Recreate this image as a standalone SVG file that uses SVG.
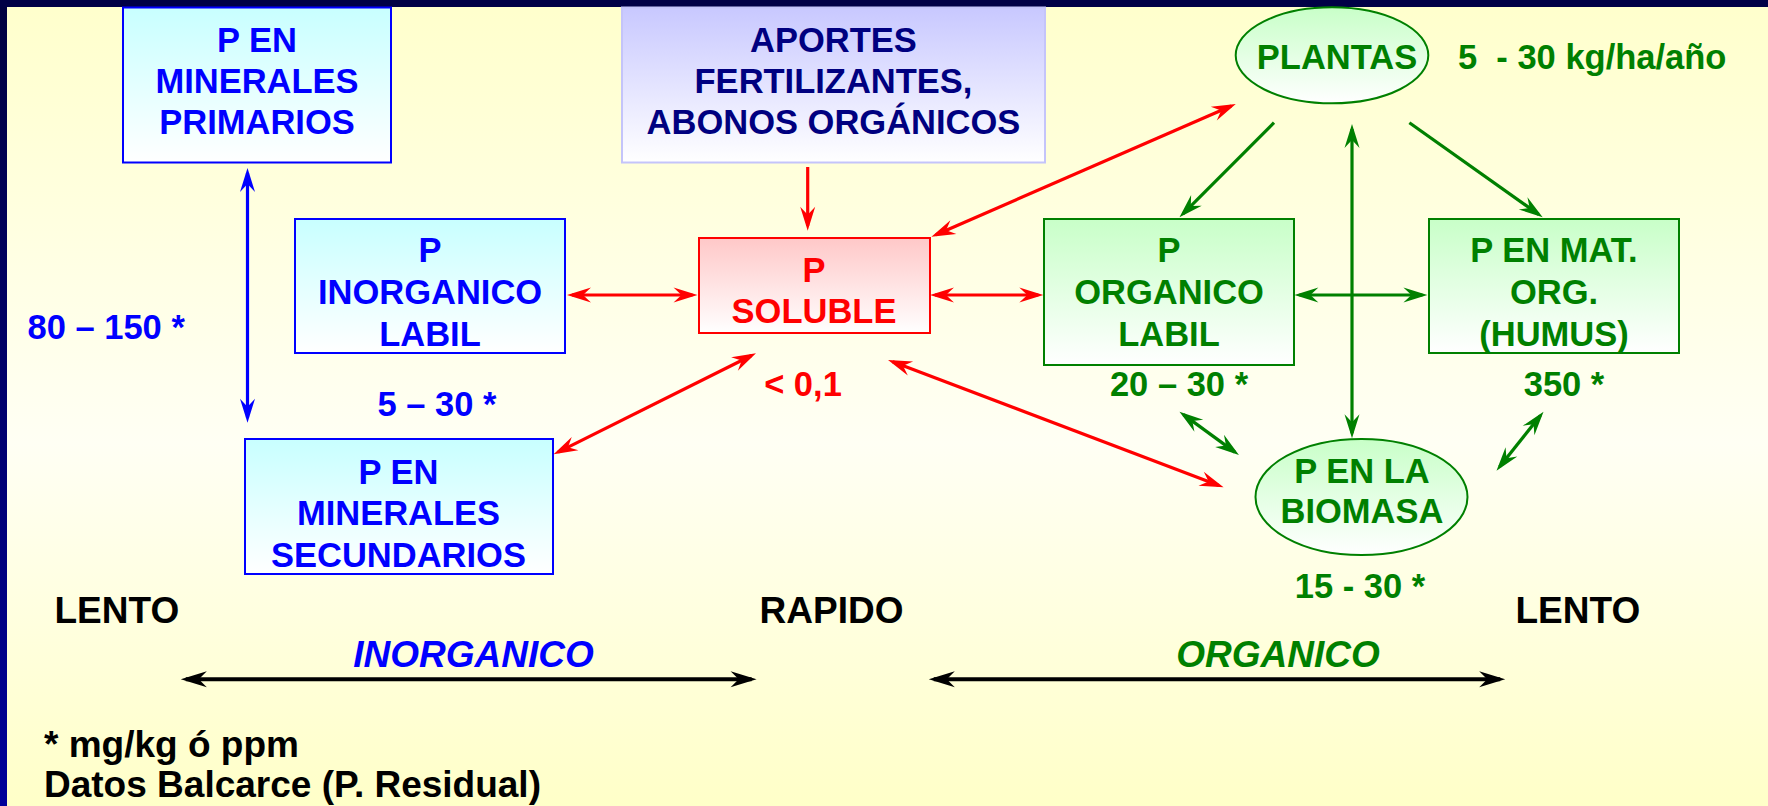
<svg xmlns="http://www.w3.org/2000/svg" width="1768" height="806" viewBox="0 0 1768 806">
<defs>
  <linearGradient id="bg" x1="0" y1="0" x2="0" y2="1">
    <stop offset="0" stop-color="#FFFFCC"/>
    <stop offset="0.55" stop-color="#FFFFF4"/>
    <stop offset="1" stop-color="#FFFFC8"/>
  </linearGradient>
  <linearGradient id="band" x1="0" y1="0" x2="0" y2="1">
    <stop offset="0" stop-color="#000040"/>
    <stop offset="1" stop-color="#00009A"/>
  </linearGradient>
  <linearGradient id="gCyan" x1="0" y1="0" x2="0" y2="1">
    <stop offset="0" stop-color="#C8FFFF"/>
    <stop offset="1" stop-color="#FFFFFF"/>
  </linearGradient>
  <linearGradient id="gLav" x1="0" y1="0" x2="0" y2="1">
    <stop offset="0" stop-color="#C8C8FF"/>
    <stop offset="1" stop-color="#FFFFFF"/>
  </linearGradient>
  <linearGradient id="gPink" x1="0" y1="0" x2="0" y2="1">
    <stop offset="0" stop-color="#FFC8C8"/>
    <stop offset="1" stop-color="#FFFFFF"/>
  </linearGradient>
  <linearGradient id="gGreen" x1="0" y1="0" x2="0" y2="1">
    <stop offset="0" stop-color="#C8FFC8"/>
    <stop offset="1" stop-color="#FFFFFF"/>
  </linearGradient>
  <marker id="mR" viewBox="-20 -8 26 16" refX="0" refY="0" markerWidth="26" markerHeight="16" markerUnits="userSpaceOnUse" orient="auto-start-reverse">
    <path d="M5,0 L-19,-7.5 L-11,0 L-19,7.5 Z" fill="#FF0000"/>
  </marker>
  <marker id="mG" viewBox="-20 -8 26 16" refX="0" refY="0" markerWidth="26" markerHeight="16" markerUnits="userSpaceOnUse" orient="auto-start-reverse">
    <path d="M5,0 L-19,-7.5 L-11,0 L-19,7.5 Z" fill="#008000"/>
  </marker>
  <marker id="mB" viewBox="-20 -8 26 16" refX="0" refY="0" markerWidth="26" markerHeight="16" markerUnits="userSpaceOnUse" orient="auto-start-reverse">
    <path d="M5,0 L-19,-7.5 L-11,0 L-19,7.5 Z" fill="#0000FF"/>
  </marker>
  <marker id="mK" viewBox="-22 -9 28 18" refX="0" refY="0" markerWidth="28" markerHeight="18" markerUnits="userSpaceOnUse" orient="auto-start-reverse">
    <path d="M5,0 L-21,-8 L-13,0 L-21,8 Z" fill="#000000"/>
  </marker>
</defs>
<style>
  text { font-family: "Liberation Sans", Arial, sans-serif; font-weight: bold; font-size: 34.5px; text-anchor: middle; }
  .blue { fill: #0000FF; }
  .navy { fill: #000080; }
  .red { fill: #FF0000; }
  .green { fill: #008000; }
  .black { fill: #000000; }
  .big { font-size: 37px; }
  .it { font-style: italic; }
  .left { text-anchor: start; }
  .cR { stroke: #FF0000; stroke-width: 3.2; fill: none; }
  .cG { stroke: #008000; stroke-width: 3.2; fill: none; }
  .cB { stroke: #0000FF; stroke-width: 3.2; fill: none; }
  .cK { stroke: #000000; stroke-width: 4; fill: none; }
</style>

<rect x="0" y="0" width="1768" height="806" fill="url(#bg)"/>
<rect x="0" y="0" width="7" height="806" fill="url(#band)"/>
<rect x="0" y="0" width="1768" height="7" fill="#000046"/>

<g id="connectors">
  <line class="cB" x1="247.5" y1="173" x2="247.5" y2="417.7" marker-start="url(#mB)" marker-end="url(#mB)"/>
  <line class="cR" x1="807.7" y1="167" x2="807.7" y2="225.7" marker-end="url(#mR)"/>
  <line class="cR" x1="572" y1="295" x2="692.5" y2="295" marker-start="url(#mR)" marker-end="url(#mR)"/>
  <line class="cR" x1="935" y1="295" x2="1038.3" y2="295" marker-start="url(#mR)" marker-end="url(#mR)"/>
  <line class="cR" x1="936" y1="234.7" x2="1231.2" y2="106" marker-start="url(#mR)" marker-end="url(#mR)"/>
  <line class="cR" x1="558.1" y1="452.1" x2="751.5" y2="355.5" marker-start="url(#mR)" marker-end="url(#mR)"/>
  <line class="cR" x1="892.7" y1="361.8" x2="1218.9" y2="485.5" marker-start="url(#mR)" marker-end="url(#mR)"/>
  <line class="cG" x1="1274" y1="122.7" x2="1183" y2="213.8" marker-end="url(#mG)"/>
  <line class="cG" x1="1409.4" y1="122.7" x2="1538.6" y2="214.4" marker-end="url(#mG)"/>
  <line class="cG" x1="1352" y1="129" x2="1352" y2="433.3" marker-start="url(#mG)" marker-end="url(#mG)"/>
  <line class="cG" x1="1299.4" y1="295" x2="1422.4" y2="295" marker-start="url(#mG)" marker-end="url(#mG)"/>
  <line class="cG" x1="1183.5" y1="414.6" x2="1234.9" y2="452.1" marker-start="url(#mG)" marker-end="url(#mG)"/>
  <line class="cG" x1="1540.4" y1="415.6" x2="1499.6" y2="466.8" marker-start="url(#mG)" marker-end="url(#mG)"/>
  <line class="cK" x1="185.8" y1="679.3" x2="751.6" y2="679.3" marker-start="url(#mK)" marker-end="url(#mK)"/>
  <line class="cK" x1="933.8" y1="679.3" x2="1500.2" y2="679.3" marker-start="url(#mK)" marker-end="url(#mK)"/>
</g>

<g id="node-minerales-primarios">
  <rect x="123" y="7.5" width="268" height="155" fill="url(#gCyan)" stroke="#0000FF" stroke-width="2"/>
  <text class="blue" x="257" y="52">P EN</text>
  <text class="blue" x="257" y="93">MINERALES</text>
  <text class="blue" x="257" y="134">PRIMARIOS</text>
</g>

<g id="node-aportes">
  <rect x="622" y="7.5" width="423" height="155" fill="url(#gLav)" stroke="#C4C4FA" stroke-width="2"/>
  <text class="navy" x="833.5" y="52">APORTES</text>
  <text class="navy" x="833.5" y="93">FERTILIZANTES,</text>
  <text class="navy" x="833.5" y="134">ABONOS ORGÁNICOS</text>
</g>

<g id="node-inorganico-labil">
  <rect x="295" y="219" width="270" height="134" fill="url(#gCyan)" stroke="#0000FF" stroke-width="2"/>
  <text class="blue" x="430" y="262">P</text>
  <text class="blue" x="430" y="304">INORGANICO</text>
  <text class="blue" x="430" y="345.5">LABIL</text>
</g>

<g id="node-minerales-secundarios">
  <rect x="245" y="439" width="308" height="135" fill="url(#gCyan)" stroke="#0000FF" stroke-width="2"/>
  <text class="blue" x="398.5" y="483.5">P EN</text>
  <text class="blue" x="398.5" y="525">MINERALES</text>
  <text class="blue" x="398.5" y="566.7">SECUNDARIOS</text>
</g>

<g id="node-soluble">
  <rect x="699" y="238" width="231" height="95" fill="url(#gPink)" stroke="#FF0000" stroke-width="2"/>
  <text class="red" x="814" y="281.7">P</text>
  <text class="red" x="814" y="323.3">SOLUBLE</text>
</g>

<g id="node-organico-labil">
  <rect x="1044" y="219" width="250" height="146" fill="url(#gGreen)" stroke="#008000" stroke-width="2"/>
  <text class="green" x="1169" y="262">P</text>
  <text class="green" x="1169" y="304">ORGANICO</text>
  <text class="green" x="1169" y="345.5">LABIL</text>
</g>

<g id="node-humus">
  <rect x="1429" y="219" width="250" height="134" fill="url(#gGreen)" stroke="#008000" stroke-width="2"/>
  <text class="green" x="1554" y="262.3">P EN MAT.</text>
  <text class="green" x="1554" y="304">ORG.</text>
  <text class="green" x="1554" y="345.7">(HUMUS)</text>
</g>

<g id="node-plantas">
  <ellipse cx="1332" cy="55.3" rx="96.3" ry="48" fill="url(#gGreen)" stroke="#008000" stroke-width="2"/>
  <text class="green" x="1337" y="69.3">PLANTAS</text>
</g>

<g id="node-biomasa">
  <ellipse cx="1361.5" cy="497" rx="106" ry="58" fill="url(#gGreen)" stroke="#008000" stroke-width="2"/>
  <text class="green" x="1362" y="482.7">P EN LA</text>
  <text class="green" x="1362" y="523.3">BIOMASA</text>
</g>

<g id="labels">
  <text class="green left" x="1458" y="69.3" xml:space="preserve">5  - 30 kg/ha/año</text>
  <text class="blue left" x="27.5" y="339">80 – 150 *</text>
  <text class="blue" x="437" y="415.7">5 – 30 *</text>
  <text class="red" x="803" y="396">&lt; 0,1</text>
  <text class="green" x="1179" y="396">20 – 30 *</text>
  <text class="green" x="1564" y="396">350 *</text>
  <text class="green" x="1360" y="597.7">15 - 30 *</text>
  <text class="black big left" x="54.5" y="622.7">LENTO</text>
  <text class="black big" x="831.5" y="622.7">RAPIDO</text>
  <text class="black big left" x="1515.5" y="622.7">LENTO</text>
  <text class="blue big it" x="473.5" y="666.7">INORGANICO</text>
  <text class="green big it" x="1278" y="666.7">ORGANICO</text>
  <text class="black big left" x="44" y="756.7">* mg/kg ó ppm</text>
  <text class="black big left" x="44" y="796.7">Datos Balcarce (P. Residual)</text>
</g>
</svg>
